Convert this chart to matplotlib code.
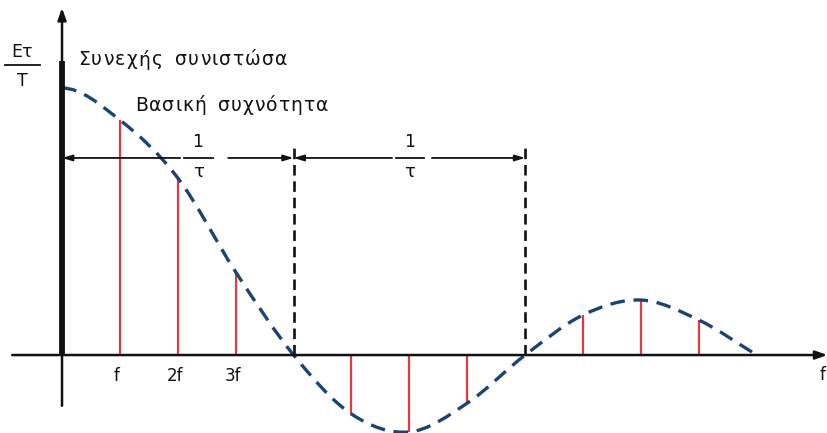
import matplotlib
matplotlib.use("Agg")
import matplotlib.pyplot as plt
from matplotlib.path import Path
from matplotlib.patches import PathPatch
from matplotlib.transforms import offset_copy

# Harmonic numbers and the envelope value at each one (relative to E*tau/T)
harmonics = [0, 1, 2, 3, 4, 5, 6, 7, 8, 9, 10, 11, 12]
envelope = [1.0, 0.88, 0.663, 0.311, 0.0, -0.221, -0.288, -0.18, 0.0, 0.15, 0.206, 0.131, 0.0]
# Spectral lines (harmonics carrying energy)
line_harmonics = [1, 2, 3, 5, 6, 7, 9, 10, 11]
dc_height = 1.10
tick_labels = ["f", "2f", "3f"]
zero_crossings = [4, 8]

fig = plt.figure(figsize=(8.28, 4.33), dpi=100)
ax = fig.add_axes([0, 0, 1, 1])
ax.set_xlim(-1.071, 13.23)
ax.set_ylim(-0.292, 1.3296)
ax.axis("off")

blue = "#1b4472"
red = "#e23a3f"
ink = "#111111"

# Smooth envelope through the sampled values (Catmull-Rom as cubic Beziers)
pts = list(zip(harmonics, envelope))
ext = [(-harmonics[1], envelope[1])] + pts + [(2 * pts[-1][0] - pts[-2][0], 2 * pts[-1][1] - pts[-2][1])]
verts = [pts[0]]
codes = [Path.MOVETO]
for i in range(1, len(ext) - 2):
    p0, p1, p2, p3 = ext[i - 1], ext[i], ext[i + 1], ext[i + 2]
    c1 = (p1[0] + (p2[0] - p0[0]) / 6, p1[1] + (p2[1] - p0[1]) / 6)
    c2 = (p2[0] - (p3[0] - p1[0]) / 6, p2[1] - (p3[1] - p1[1]) / 6)
    verts += [c1, c2, p2]
    codes += [Path.CURVE4] * 3

# Spectral lines
for n in line_harmonics:
    ax.plot([n, n], [0, envelope[harmonics.index(n)]], color=red, lw=1.6,
            solid_capstyle="butt", zorder=2)

ax.add_patch(PathPatch(Path(verts, codes), fill=False, edgecolor=blue, lw=2.4,
                       linestyle=(0, (4.4, 2.6)), zorder=3))

# Axes with arrow heads
ax.annotate("", xy=(13.22, 0), xytext=(-0.86, 0),
            arrowprops=dict(arrowstyle="-|>,head_length=0.7,head_width=0.25",
                            color=ink, lw=1.8, shrinkA=0, shrinkB=0), zorder=4)
ax.annotate("", xy=(0, 1.3), xytext=(0, -0.19),
            arrowprops=dict(arrowstyle="-|>,head_length=0.7,head_width=0.25",
                            color=ink, lw=1.8, shrinkA=0, shrinkB=0), zorder=4)
# DC component
ax.plot([0, 0], [0, dc_height], color=ink, lw=4.2, solid_capstyle="butt", zorder=4)

# Zero-crossing markers
for z in zero_crossings:
    ax.plot([z, z], [0, 0.775], color=ink, lw=1.9, linestyle=(0, (4.0, 2.2)), zorder=3)

# Width markers 1/tau
arrow_y = 0.738
def dim(x0, x1, label_x, gap_l, gap_r):
    kw = dict(arrowstyle="-|>,head_length=0.6,head_width=0.18", color=ink, lw=1.3,
              shrinkA=0, shrinkB=0)
    ax.annotate("", xy=(x0, arrow_y), xytext=(gap_l, arrow_y), arrowprops=kw)
    ax.annotate("", xy=(x1, arrow_y), xytext=(gap_r, arrow_y), arrowprops=kw)
    ax.plot([label_x - 0.25, label_x + 0.25], [arrow_y, arrow_y], color=ink, lw=1.3)
    ax.text(label_x, arrow_y + 0.025, "1", ha="center", va="bottom", fontsize=12.5, color=ink)
    ax.text(label_x, arrow_y - 0.02, "τ", ha="center", va="top", fontsize=13, color=ink)

dim(0, 4, 2.35, 2.04, 2.87)
dim(4, 8, 6.01, 5.70, 6.39)

# Harmonic tick labels
for n, lab in zip(harmonics[1:4], tick_labels):
    ax.text(n - 0.05, -0.077, lab, ha="center", va="center", fontsize=12, color=ink)
ax.text(13.13, -0.075, "f", ha="center", va="center", fontsize=12, color=ink)

# Vertical axis label Eτ/T
ax.text(-0.69, 1.135, "Eτ", ha="center", va="center", fontsize=12.5, color=ink)
ax.plot([-0.98, -0.38], [1.085, 1.085], color=ink, lw=1.3)
ax.text(-0.69, 1.026, "T", ha="center", va="center", fontsize=12.5, color=ink)


def spaced_text(x, y, s, width_px, space_px=12, **kw):
    """Draw s starting at data (x, y), letter-spaced to span width_px pixels."""
    renderer = fig.canvas.get_renderer()
    widths = []
    for ch in s:
        if ch == " ":
            widths.append(space_px)
            continue
        t = ax.text(0, 0, ch, **kw)
        widths.append(t.get_window_extent(renderer).width)
        t.remove()
    gaps = sum(1 for i in range(len(s) - 1) if s[i] != " " and s[i + 1] != " ")
    extra = (width_px - sum(widths)) / max(gaps, 1)
    off = 0.0
    for i, ch in enumerate(s):
        if ch != " ":
            tr = offset_copy(ax.transData, fig=fig, x=off * 72 / fig.dpi, y=0, units="points")
            ax.text(x, y, ch, transform=tr, ha="left", **kw)
        off += widths[i]
        if i + 1 < len(s) and ch != " " and s[i + 1] != " ":
            off += extra


spaced_text(0.27, 1.105, "Συνεχής συνιστώσα", 210, va="center", fontsize=13.5, color=ink)
spaced_text(1.26, 0.935, "Βασική συχνότητα", 193, va="center", fontsize=13.5, color=ink)

fig.savefig("out.png", dpi=100)
